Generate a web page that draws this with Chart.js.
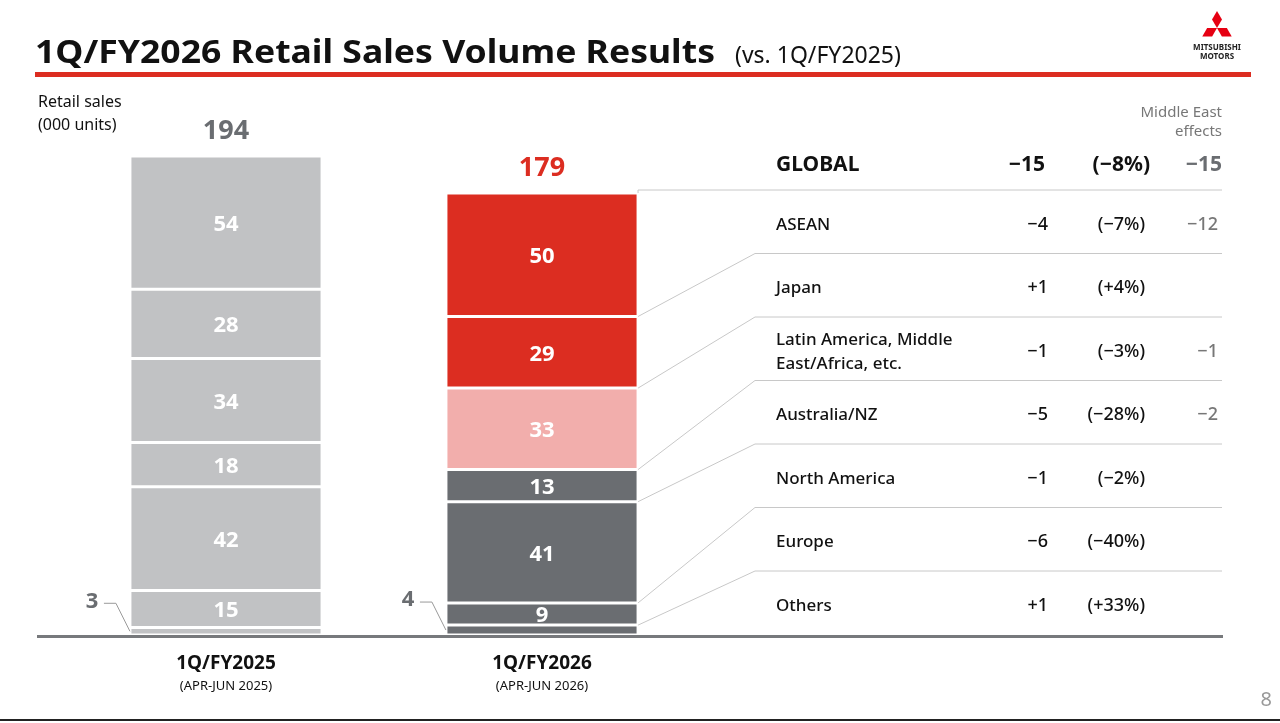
<!DOCTYPE html>
<html>
<head>
<meta charset="utf-8">
<script src="https://cdn.jsdelivr.net/npm/chart.js@4"></script>
<style>
  html, body { margin: 0; padding: 0; background: #fff; }
  #wrap { width: 1280px; height: 723px; position: relative; }
</style>
</head>
<body>
<div id="wrap"><canvas id="retail"></canvas></div>
<script>
// --- data ---
const periods = ['1Q/FY2025', '1Q/FY2026'];
const periodSub = ['(APR-JUN 2025)', '(APR-JUN 2026)'];
const regions = ['Others', 'Europe', 'North America', 'Australia/NZ', 'Latin America, Middle East/Africa, etc.', 'Japan', 'ASEAN'];
const fy2025 = [3, 15, 42, 18, 34, 28, 54];
const fy2026 = [4, 9, 41, 13, 33, 29, 50];
const colors2026 = ['#6a6d71', '#6a6d71', '#6a6d71', '#6a6d71', '#f2aeac', '#dc2d21', '#dc2d21'];
const totals = [194, 179];

// table rows, top to bottom
const tableNames = ['ASEAN', 'Japan', 'Latin America, Middle\nEast/Africa, etc.', 'Australia/NZ', 'North America', 'Europe', 'Others'];
const tableDiff = ['\u22124', '+1', '\u22121', '\u22125', '\u22121', '\u22126', '+1'];
const tablePct = ['(\u22127%)', '(+4%)', '(\u22123%)', '(\u221228%)', '(\u22122%)', '(\u221240%)', '(+33%)'];
const tableME = ['\u221212', '', '\u22121', '\u22122', '', '', ''];

const FONT = '"Noto Sans", "Open Sans", sans-serif';

const datasets = regions.map((r, i) => ({
  label: r,
  data: [fy2025[i], fy2026[i]],
  backgroundColor: ['#c1c2c4', colors2026[i]],
  borderColor: '#ffffff',
  borderWidth: 1.5,
  borderSkipped: false,
  categoryPercentage: 1,
  barPercentage: 0.608
}));

const decor = {
  id: 'decor',
  afterDatasetsDraw(chart) {
    const c = chart.ctx;
    const x = chart.scales.x, y = chart.scales.y;
    c.save();

    // title
    c.fillStyle = '#111';
    c.textBaseline = 'alphabetic';
    c.font = 'bold 33px ' + FONT;
    const title = '1Q/FY2026 Retail Sales Volume Results';
    c.save();
    const tw = c.measureText(title).width;
    c.translate(35, 63);
    c.scale(680 / tw, 1);
    c.fillText(title, 0, 0);
    c.restore();
    c.font = '23px ' + FONT;
    c.fillText('(vs. 1Q/FY2025)', 735, 63);
    c.fillStyle = '#dc2d21';
    c.fillRect(35, 72, 1216, 5);

    // logo: three diamonds meeting at a centre point
    const lcx = 1217, lcy = 28, len = 17, hw = 5;
    c.fillStyle = '#e60012';
    [-90, 150, 30].forEach(a => {
      const r = a * Math.PI / 180;
      const dx = Math.cos(r), dy = Math.sin(r);
      c.beginPath();
      c.moveTo(lcx, lcy);
      c.lineTo(lcx + dx * len / 2 - dy * hw, lcy + dy * len / 2 + dx * hw);
      c.lineTo(lcx + dx * len, lcy + dy * len);
      c.lineTo(lcx + dx * len / 2 + dy * hw, lcy + dy * len / 2 - dx * hw);
      c.closePath(); c.fill();
    });
    c.fillStyle = '#222';
    c.font = 'bold 8px ' + FONT;
    c.textAlign = 'center';
    c.fillText('MITSUBISHI', lcx, 50);
    c.fillText('MOTORS', lcx, 59);

    // axis captions
    c.textAlign = 'left';
    c.fillStyle = '#111';
    c.font = '16px ' + FONT;
    c.fillText('Retail sales', 38, 107);
    c.fillText('(000 units)', 38, 130);
    c.textAlign = 'right';
    c.fillStyle = '#777';
    c.font = '15px ' + FONT;
    c.fillText('Middle East', 1222, 117);
    c.fillText('effects', 1222, 136);

    // segment labels
    const m0 = chart.getDatasetMeta(0);
    c.textAlign = 'center';
    c.textBaseline = 'middle';
    for (let d = 1; d < datasets.length; d++) {
      const meta = chart.getDatasetMeta(d);
      meta.data.forEach((bar, j) => {
        c.fillStyle = '#fff';
        c.font = 'bold 22px ' + FONT;
        c.fillText(String(datasets[d].data[j]), bar.x, (bar.y + bar.base) / 2 + 2);
      });
    }
    // small "Others" labels outside
    c.fillStyle = '#6a6d71';
    c.font = 'bold 22px ' + FONT;
    c.strokeStyle = '#999';
    c.lineWidth = 1;
    m0.data.forEach((bar, j) => {
      const left = bar.x - bar.width / 2;
      const my = (bar.y + bar.base) / 2;
      c.fillText(String(datasets[0].data[j]), left - 38, my - 30);
      c.beginPath();
      c.moveTo(left - 26, my - 28); c.lineTo(left - 14, my - 28); c.lineTo(left, my);
      c.stroke();
    });

    // totals
    c.font = 'bold 27px ' + FONT;
    totals.forEach((t, j) => {
      const top = y.getPixelForValue(t);
      c.fillStyle = j === 0 ? '#6a6d71' : '#dc2d21';
      c.fillText(String(t), x.getPixelForValue(j), top - 25);
    });

    // period labels
    periods.forEach((p, j) => {
      const px = x.getPixelForValue(j);
      c.fillStyle = '#111';
      c.font = 'bold 19px ' + FONT;
      c.fillText(p, px, 664);
      c.font = '13px ' + FONT;
      c.fillText(periodSub[j], px, 686);
    });

    // baseline
    c.fillStyle = '#77797c';
    c.fillRect(37, y.getPixelForValue(0), 1186, 3);

    // table row lines and connectors
    const bar2 = chart.getDatasetMeta(0).data[1];
    const right2 = bar2.x + bar2.width / 2;
    const rowTop = 190, rowH = 63.5;
    c.strokeStyle = '#c8c8c8';
    c.lineWidth = 1;
    c.beginPath();
    const topASEAN = y.getPixelForValue(totals[1]);
    c.moveTo(right2, topASEAN); c.lineTo(638, rowTop); c.lineTo(1222, rowTop);
    c.stroke();
    let cum = totals[1];
    for (let r = 1; r < tableNames.length; r++) {
      cum -= fy2026[regions.length - r];
      const ly2 = rowTop + r * rowH;
      c.beginPath();
      c.moveTo(right2, y.getPixelForValue(cum));
      c.lineTo(755, ly2);
      c.lineTo(1222, ly2);
      c.stroke();
    }

    // table header
    c.textBaseline = 'middle';
    c.fillStyle = '#111';
    c.font = 'bold 21px ' + FONT;
    c.textAlign = 'left';
    c.fillText('GLOBAL', 776, 165);
    c.textAlign = 'right';
    c.fillText('\u221215', 1045, 165);
    c.fillText('(\u22128%)', 1150, 165);
    c.fillStyle = '#6a6d71';
    c.fillText('\u221215', 1222, 165);

    // table rows
    tableNames.forEach((n, r) => {
      const cy = rowTop + r * rowH + rowH / 2 + 3;
      c.fillStyle = '#111';
      c.font = '500 17px ' + FONT;
      c.textAlign = 'left';
      const lines = n.split('\n');
      lines.forEach((ln, k) => c.fillText(ln, 776, cy + (k - (lines.length - 1) / 2) * 24));
      c.textAlign = 'right';
      c.font = '500 18px ' + FONT;
      c.fillText(tableDiff[r], 1048, cy);
      c.fillText(tablePct[r], 1145, cy);
      c.fillStyle = '#777';
      c.fillText(tableME[r], 1218, cy);
    });

    // footer
    c.fillStyle = '#999';
    c.font = '20px ' + FONT;
    c.textAlign = 'right';
    c.fillText('8', 1272, 700);
    c.fillStyle = '#222';
    c.fillRect(0, 719, 1280, 2);

    c.restore();
  }
};

new Chart(document.getElementById('retail'), {
  type: 'bar',
  data: { labels: periods, datasets: datasets },
  options: {
    responsive: true,
    maintainAspectRatio: false,
    animation: false,
    layout: { padding: { top: 156, bottom: 88, left: 68, right: 580 } },
    plugins: { legend: { display: false }, tooltip: { enabled: false } },
    scales: {
      x: { stacked: true, display: false },
      y: { stacked: true, display: false, min: 0, max: 194 }
    }
  },
  plugins: [decor]
});
</script>
</body>
</html>
